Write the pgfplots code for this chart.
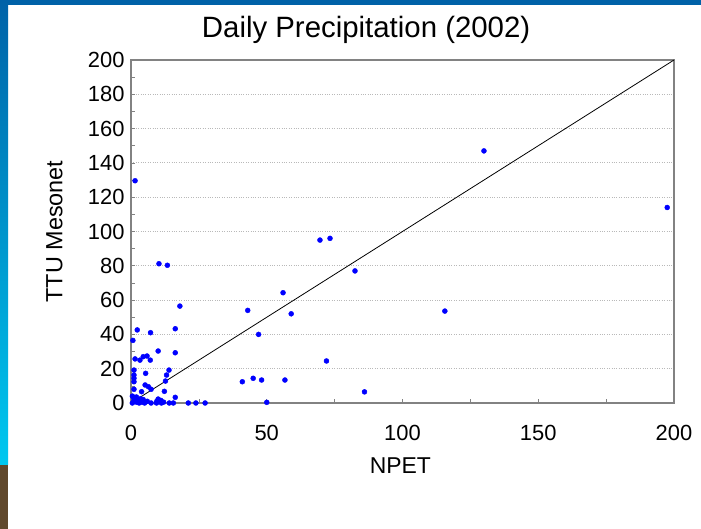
\documentclass[border=0pt]{standalone}
\usepackage{fontspec}
\setmainfont{Liberation Sans}
\usepackage{pgfplots}
\pgfplotsset{compat=1.18}
\definecolor{slideblue}{RGB}{0,98,168}
\definecolor{slidecyan}{RGB}{0,200,240}
\definecolor{slidebrown}{RGB}{96,72,44}
\definecolor{axisgray}{RGB}{130,130,130}
\begin{document}
\begin{tikzpicture}
  % slide background
  \fill[white] (0bp,0bp) rectangle (701bp,529bp);
  \fill[slideblue] (0bp,524bp) rectangle (701bp,529bp);
  \shade[top color=slideblue, bottom color=slidecyan] (0bp,64bp) rectangle (8bp,529bp);
  \fill[slidebrown] (0bp,0bp) rectangle (8bp,64bp);
  \begin{axis}[
    at={(131bp,126bp)}, anchor=south west,
    scale only axis, width=543bp, height=343bp,
    xmin=0, xmax=200, ymin=0, ymax=200,
    xtick={0,50,...,200}, ytick={0,20,...,200},
    minor x tick num=1, minor y tick num=1,
    xtick pos=bottom, ytick pos=left,
    tick align=inside,
    major tick length=4bp, minor tick length=4bp,
    tick style={axisgray, line width=0.6bp},
    ymajorgrids,
    major grid style={dotted, gray!55, line width=0.8bp},
    axis line style={axisgray, line width=1.3bp},
    /pgf/number format/assume math mode=true,
    ticklabel style={font=\fontsize{22}{22}\selectfont},
    xticklabel style={yshift=-19bp},
    yticklabel style={xshift=-3bp},
    title={Daily Precipitation (2002)},
    title style={at={(rel axis cs:0.433,1)}, anchor=south, inner sep=0pt,
      yshift=10bp, font=\fontsize{29.5}{29.5}\selectfont},
    xlabel={NPET},
    xlabel style={at={(rel axis cs:0.496,0)}, anchor=center, yshift=-63bp,
      font=\fontsize{23}{23}\selectfont},
    ylabel={TTU Mesonet},
    ylabel style={at={(rel axis cs:-0.141,0.5)}, anchor=center,
      font=\fontsize{23.5}{23.5}\selectfont},
    clip=false,
  ]
    \addplot[black, line width=0.8bp] coordinates {(0,0) (200,200)};
    \addplot[only marks, mark=*, mark size=2.5bp, blue, mark options={fill=blue, draw=blue}]
      coordinates {
      (1.5,129.6) (130,147) (197.5,114) (69.6,95) (73.3,96)
      (10.3,81.2) (13.4,80.3) (82.5,77) (56,64.3) (18,56.5)
      (43,54) (59,52) (115.6,53.6) (2.3,42.6) (7.2,41)
      (16.3,43.3) (47,40) (0.7,36.5) (10,30.3) (16.3,29.3)
      (1.5,25.7) (3.3,25) (4.5,27) (5.9,27.4) (7.1,25)
      (72,24.5) (1.1,19.2) (5.4,17.3) (14,19.2) (13.1,16.3)
      (1.1,16.3) (1.1,14.4) (1.1,12.4) (12.7,12.8) (5.2,10.5)
      (6.4,9.5) (7.4,8) (1.1,8) (3.9,6.6) (12.3,6.8)
      (10,2.3) (16.3,3.3) (41,12.4) (45,14.4) (48.1,13.4)
      (56.7,13.4) (86,6.5) (50,0.4) (21.1,0) (23.9,0)
      (27.3,0) (0.5,0) (1,1) (1.5,2) (2,0.5)
      (2.5,1.5) (3,0) (3.5,2.5) (4,0.5) (1,3)
      (0.5,4) (2,3.5) (4.5,2) (5,0) (6,1)
      (7.4,0) (9.4,0) (11.2,0) (12,0.5) (14.1,0)
      (15.6,0) (9.5,1) (11,1.5)
      };
  \end{axis}
\end{tikzpicture}
\end{document}
